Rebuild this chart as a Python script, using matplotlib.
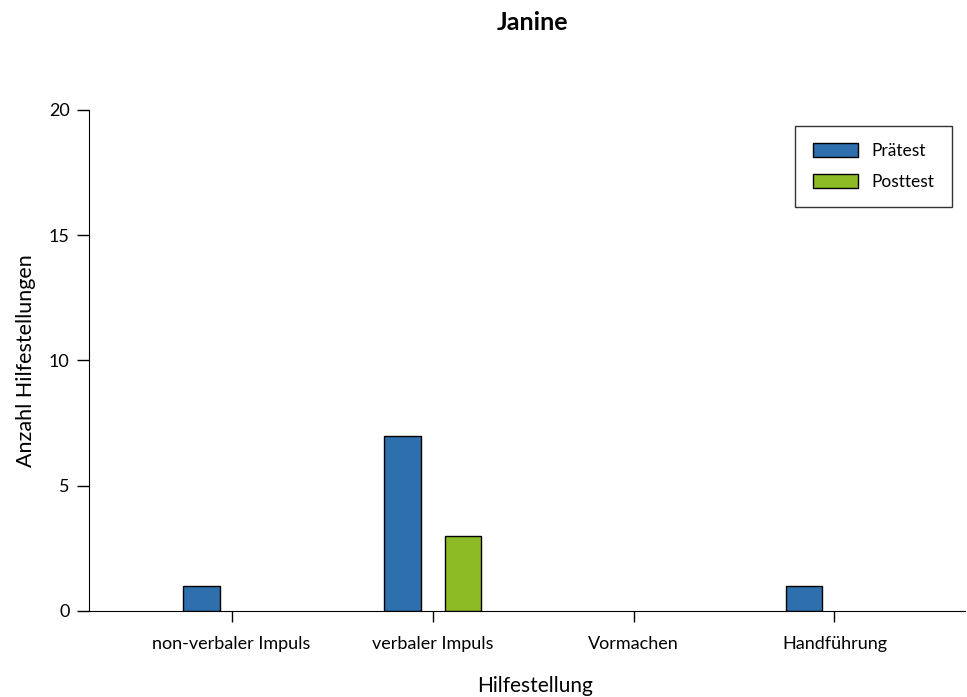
import matplotlib
matplotlib.use("Agg")
import matplotlib.pyplot as plt
from matplotlib.patches import Patch
import numpy as np

plt.rcParams["font.family"] = ["Lato", "DejaVu Sans"]

categories = ["non-verbaler Impuls", "verbaler Impuls", "Vormachen", "Handführung"]
pretest = [1, 7, 0, 1]
posttest = [0, 3, 0, 0]

BLUE = "#2E6FAD"
GREEN = "#8CBB26"

fig = plt.figure(figsize=(9.67, 6.97), dpi=100)
ax = fig.add_axes([0.092, 0.1234, 0.906, 0.7188])

x = np.arange(len(categories))
w = 0.18
b1 = ax.bar(x - 0.15, pretest, w, color=BLUE, edgecolor="black", linewidth=1)
b2 = ax.bar(x + 0.15, posttest, w, color=GREEN, edgecolor="black", linewidth=1)
# empty categories draw nothing
for p in list(b1) + list(b2):
    if p.get_height() == 0:
        p.set_visible(False)

ax.set_xlim(-0.71, 3.65)
ax.set_ylim(0, 20)
ax.set_yticks([0, 5, 10, 15, 20])
ax.set_xticks(x)
ax.set_xticklabels(categories, fontsize=13)
ax.tick_params(axis="y", labelsize=13, length=9, width=1, direction="out", pad=5)
ax.tick_params(axis="x", length=8, width=1, direction="out", pad=10)
ax.spines["top"].set_visible(False)
ax.spines["right"].set_visible(False)

ax.set_xlabel("Hilfestellung", fontsize=15, labelpad=16)
ax.xaxis.set_label_coords(0.509, -0.13)
ax.set_ylabel("Anzahl Hilfestellungen", fontsize=15.5)
ax.yaxis.set_label_coords(-0.061, 0.5)
fig.text(0.551, 0.968, "Janine", ha="center", va="center", fontsize=18, fontweight="bold")

handles = [Patch(facecolor=BLUE, edgecolor="black", linewidth=1, label="Prätest"),
           Patch(facecolor=GREEN, edgecolor="black", linewidth=1, label="Posttest")]
leg = ax.legend(handles=handles, loc="upper right", bbox_to_anchor=(0.985, 0.968),
                borderaxespad=0, fontsize=12.5, frameon=True, fancybox=False,
                edgecolor="black", handlelength=2.6, handleheight=0.85,
                handletextpad=0.8, borderpad=1.0, labelspacing=0.85)
leg.get_frame().set_linewidth(1)

fig.savefig("out.png", dpi=100)
